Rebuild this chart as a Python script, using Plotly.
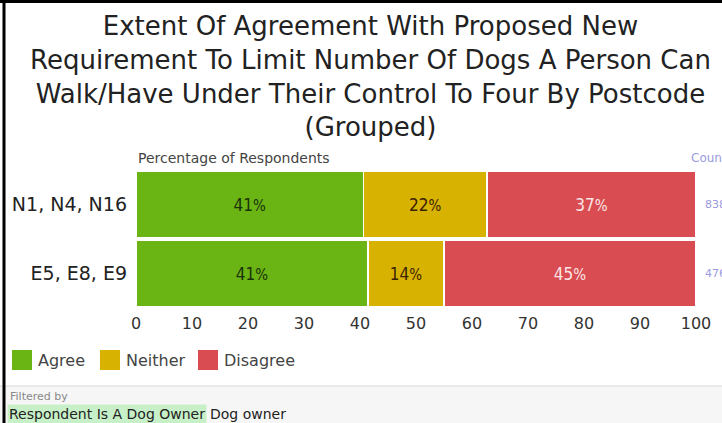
import plotly.graph_objects as go

postcodes = ["N1, N4, N16", "E5, E8, E9"]
agree = [40.6, 41.4]
neither = [22.1, 13.6]
disagree = [37.3, 45.0]
counts = [838, 476]
ticks = [0, 10, 20, 30, 40, 50, 60, 70, 80, 90, 100]

series = [
    ("Agree", agree, "rgb(106,180,20)", "#1a320a"),
    ("Neither", neither, "rgb(216,178,0)", "#3a2204"),
    ("Disagree", disagree, "rgb(216,76,82)", "#fbe6e6"),
]

W, H = 722, 423
L, R, T, B = 136, 26, 170, 115
FONT = "DejaVu Sans, sans-serif"

fig = go.Figure()
for name, vals, col, tcol in series:
    fig.add_trace(go.Bar(
        name=name, y=postcodes, x=vals, orientation="h", showlegend=False,
        marker=dict(color=col, line=dict(color="white", width=1.5)),
        text=["%d<span style='font-size:15px'>%%</span>" % round(v) for v in vals],
        textposition="inside", insidetextanchor="middle",
        textfont=dict(size=17, color=tcol, family="DejaVu Sans Condensed, DejaVu Sans, sans-serif"),
    ))

title = ("Extent Of Agreement With Proposed New<br>Requirement To Limit Number Of Dogs A Person Can<br>"
         "Walk/Have Under Their Control To Four By Postcode<br>(Grouped)")

fig.update_layout(
    width=W, height=H, barmode="stack", bargap=0.04,
    margin=dict(l=L, r=R, t=T, b=B, autoexpand=False),
    paper_bgcolor="white", plot_bgcolor="white",
    font=dict(family=FONT, color="#333"),
    xaxis=dict(range=[0, 100], tickvals=ticks, showgrid=False, zeroline=False, automargin=False,
               tickfont=dict(size=16, color="#333"), ticks="", ticklabelstandoff=4, fixedrange=True),
    yaxis=dict(autorange="reversed", showgrid=False, tickfont=dict(size=19, color="#222"), automargin=False,
               ticks="", ticklabelstandoff=8, fixedrange=True),
    showlegend=False,
)

pw = W - L - R
ph = H - T - B
def px(x):
    return (x - L) / pw
def py(y):
    return (H - B - y) / ph

fig.add_annotation(text=title, x=px(370), xanchor="center", xref="paper", yref="paper",
                   y=py(9), yanchor="top", showarrow=False, align="center",
                   font=dict(size=26, color="#222", family=FONT))
fig.add_annotation(text="Percentage of Respondents", x=0, xanchor="left", xref="paper", yref="paper",
                   y=py(158), yanchor="middle", showarrow=False, font=dict(size=14, color="#444"))
fig.add_annotation(text="Count", x=px(689), xanchor="left", xref="paper", yref="paper",
                   y=py(158), yanchor="middle", showarrow=False, font=dict(size=12, color="#9a9ae0"))
for pc, c in zip(postcodes, counts):
    fig.add_annotation(text=str(c), x=px(703), xanchor="left", xref="paper", y=pc, yref="y",
                       showarrow=False, font=dict(size=11, color="#9a9ae0"))

# legend: square swatches + labels
for (name, vals, col, tcol), x0 in zip(series, [12, 100, 198]):
    fig.add_shape(type="rect", xref="paper", yref="paper", x0=px(x0), x1=px(x0 + 20),
                  y0=py(370), y1=py(350), fillcolor=col, line=dict(width=0))
    fig.add_annotation(text=name, x=px(x0 + 24), xanchor="left", xref="paper", yref="paper",
                       y=py(360), yanchor="middle", showarrow=False, font=dict(size=16, color="#444"))

# filter footer
fig.add_shape(type="rect", xref="paper", yref="paper", x0=px(0), x1=px(W), y0=py(H), y1=py(386),
              fillcolor="#f6f6f6", line=dict(width=0), layer="below")
fig.add_shape(type="line", xref="paper", yref="paper", x0=px(0), x1=px(W), y0=py(386), y1=py(386),
              line=dict(color="#d8d8d8", width=1))
fig.add_annotation(text="Filtered by", x=px(8), xanchor="left", xref="paper", yref="paper",
                   y=py(396), yanchor="middle", showarrow=False, font=dict(size=11, color="#888"))
fig.add_annotation(text="Respondent Is A Dog Owner", x=px(7), xanchor="left", xref="paper", yref="paper",
                   y=py(414), yanchor="middle", showarrow=False, bgcolor="#c8f0c8", borderpad=1,
                   font=dict(size=14, color="#222"))
fig.add_annotation(text="Dog owner", x=px(208), xanchor="left", xref="paper", yref="paper",
                   y=py(414), yanchor="middle", showarrow=False, font=dict(size=14, color="#222"))

# screenshot frame
fig.add_shape(type="line", xref="paper", yref="paper", x0=px(4), x1=px(4), y0=py(0), y1=py(H),
              line=dict(color="black", width=3))
fig.add_shape(type="line", xref="paper", yref="paper", x0=px(0), x1=px(W), y0=py(1.5), y1=py(1.5),
              line=dict(color="black", width=3))

fig.write_html("out.html", config={"displayModeBar": False},
               post_script="document.body.style.margin='0';")
